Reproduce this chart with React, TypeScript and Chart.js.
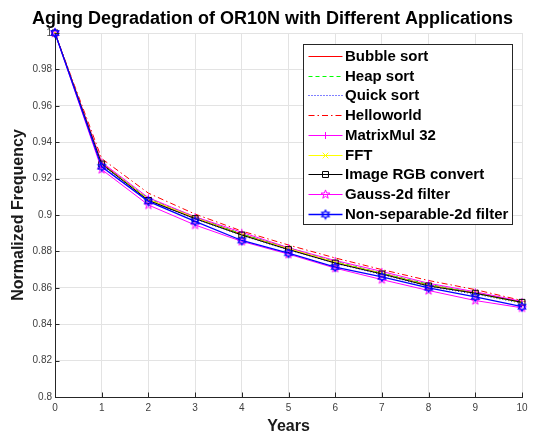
import React, { useEffect, useRef } from 'react';
import { Chart, registerables } from 'chart.js';
import { drawPoint } from 'chart.js/helpers';

Chart.register(...registerables);

const years = [0, 1, 2, 3, 4, 5, 6, 7, 8, 9, 10];
const bubbleSort = [1, 0.9285, 0.9085, 0.8985, 0.8895, 0.8815, 0.874, 0.868, 0.8615, 0.8572, 0.8522];
const heapSort = [1, 0.928, 0.909, 0.899, 0.8895, 0.882, 0.8745, 0.868, 0.862, 0.857, 0.852];
const quickSort = [1, 0.9275, 0.9078, 0.8978, 0.8888, 0.8808, 0.8735, 0.8672, 0.8608, 0.8565, 0.8515];
const helloworld = [1, 0.931, 0.912, 0.9005, 0.8912, 0.8835, 0.8764, 0.87, 0.864, 0.859, 0.853];
const matrixMul32 = [1, 0.929, 0.9095, 0.899, 0.8905, 0.882, 0.875, 0.869, 0.8625, 0.8578, 0.8525];
const fft = [1, 0.928, 0.9085, 0.8985, 0.889, 0.8815, 0.874, 0.8678, 0.8612, 0.857, 0.8518];
const imageRgbConvert = [1, 0.928, 0.908, 0.898, 0.889, 0.881, 0.8736, 0.8676, 0.861, 0.857, 0.852];
const gauss2dFilter = [1, 0.925, 0.9055, 0.8945, 0.8855, 0.8785, 0.8708, 0.8645, 0.8585, 0.853, 0.849];
const nonSeparable2dFilter = [1, 0.9265, 0.9075, 0.8965, 0.886, 0.879, 0.8714, 0.866, 0.86, 0.855, 0.8496];

const seriesLabels = [
  'Bubble sort',
  'Heap sort',
  'Quick sort',
  'Helloworld',
  'MatrixMul 32',
  'FFT',
  'Image RGB convert',
  'Gauss-2d filter',
  'Non-separable-2d filter',
];

const yTickLabels = ['0.8', '0.82', '0.84', '0.86', '0.88', '0.9', '0.92', '0.94', '0.96', '0.98', '1'];
const xTickLabels = ['0', '1', '2', '3', '4', '5', '6', '7', '8', '9', '10'];

const FONT = "'Liberation Sans', Arial, Helvetica, sans-serif";

function makeStar(color: string, points: number, outer: number, inner: number, lw: number) {
  const size = Math.ceil(outer * 2 + 3);
  const c = document.createElement('canvas');
  c.width = size;
  c.height = size;
  const ctx = c.getContext('2d')!;
  const cx = size / 2;
  const cy = size / 2;
  ctx.strokeStyle = color;
  ctx.lineWidth = lw;
  ctx.beginPath();
  for (let i = 0; i < points * 2; i++) {
    const r = i % 2 === 0 ? outer : inner;
    const a = -Math.PI / 2 + (i * Math.PI) / points;
    const px = cx + r * Math.cos(a);
    const py = cy + r * Math.sin(a);
    if (i === 0) ctx.moveTo(px, py);
    else ctx.lineTo(px, py);
  }
  ctx.closePath();
  ctx.stroke();
  return c;
}

export default function App() {
  const ref = useRef<HTMLCanvasElement | null>(null);

  useEffect(() => {
    document.body.style.margin = '0';
    const canvas = ref.current!;
    const pentagram = makeStar('#ff00ff', 5, 4.6, 1.9, 1);
    const hexagram = makeStar('#0000ff', 6, 4.2, 2.4, 1.3);

    const values = [
      bubbleSort,
      heapSort,
      quickSort,
      helloworld,
      matrixMul32,
      fft,
      imageRgbConvert,
      gauss2dFilter,
      nonSeparable2dFilter,
    ];
    const styles: any[] = [
      { color: '#ff0000', dash: [], width: 1, marker: null, r: 0 },
      { color: '#00ff00', dash: [4, 3], width: 1, marker: null, r: 0 },
      { color: '#0000ff', dash: [1, 2], width: 1, marker: null, r: 0 },
      { color: '#ff0000', dash: [6, 3, 1.5, 3], width: 1, marker: null, r: 0 },
      { color: '#ff00ff', dash: [], width: 1, marker: 'cross', r: 3.5 },
      { color: '#ffff00', dash: [], width: 1, marker: 'crossRot', r: 4 },
      { color: '#000000', dash: [], width: 1, marker: 'rect', r: 4.2 },
      { color: '#ff00ff', dash: [], width: 1, marker: pentagram, r: 4.5 },
      { color: '#0000ff', dash: [], width: 1.3, marker: hexagram, r: 4.5 },
    ];

    const datasets: any[] = values.map((vals, i) => {
      const s = styles[i];
      return {
        label: seriesLabels[i],
        data: vals.map((v, j) => ({ x: years[j], y: v })),
        borderColor: s.color,
        backgroundColor: s.color,
        borderWidth: s.width,
        borderDash: s.dash,
        pointStyle: s.marker || 'circle',
        pointRadius: s.r,
        pointBorderColor: s.color,
        pointBackgroundColor: 'rgba(0,0,0,0)',
        pointBorderWidth: 1,
        clip: false,
        order: values.length - i,
        yAxisID: 'y',
      };
    });

    const inwardTicks = {
      id: 'inwardTicks',
      afterDatasetsDraw(chart: any) {
        const { ctx, chartArea, scales } = chart;
        ctx.save();
        ctx.strokeStyle = '#262626';
        ctx.lineWidth = 1;
        ctx.beginPath();
        scales.x.ticks.forEach((t: any) => {
          const px = Math.round(scales.x.getPixelForValue(t.value)) + 0.5;
          ctx.moveTo(px, chartArea.bottom);
          ctx.lineTo(px, chartArea.bottom - 4.5);
        });
        scales.y.ticks.forEach((t: any) => {
          const py = Math.round(scales.y.getPixelForValue(t.value)) + 0.5;
          ctx.moveTo(chartArea.left, py);
          ctx.lineTo(chartArea.left + 4.5, py);
        });
        ctx.stroke();
        ctx.restore();
      },
    };

    const boxLegend = {
      id: 'boxLegend',
      afterDraw(chart: any) {
        const { ctx, chartArea } = chart;
        const left = Math.round(chartArea.right - 219) + 0.5;
        const top = Math.round(chartArea.top + 11) + 0.5;
        const w = 209;
        const h = 180;
        ctx.save();
        ctx.fillStyle = '#ffffff';
        ctx.fillRect(left, top, w, h);
        ctx.strokeStyle = '#262626';
        ctx.lineWidth = 1;
        ctx.strokeRect(left, top, w, h);
        seriesLabels.forEach((label, i) => {
          const s = styles[i];
          const y = Math.round(top + 11.5 + i * 19.7) + 0.5;
          const x0 = left + 5;
          const x1 = left + 39;
          ctx.save();
          ctx.setLineDash(s.dash);
          ctx.strokeStyle = s.color;
          ctx.lineWidth = s.width;
          ctx.beginPath();
          ctx.moveTo(x0, y);
          ctx.lineTo(x1, y);
          ctx.stroke();
          ctx.setLineDash([]);
          if (s.marker) {
            ctx.strokeStyle = s.color;
            ctx.fillStyle = 'rgba(0,0,0,0)';
            ctx.lineWidth = 1;
            drawPoint(ctx, { pointStyle: s.marker, radius: s.r, rotation: 0, borderWidth: 1 }, (x0 + x1) / 2, y);
          }
          ctx.restore();
          ctx.fillStyle = '#000000';
          ctx.font = `bold 15px ${FONT}`;
          ctx.textAlign = 'left';
          ctx.textBaseline = 'alphabetic';
          ctx.fillText(label, left + 41.5, y + 4.8);
        });
        ctx.restore();
      },
    };

    const chart = new Chart(canvas, {
      type: 'line',
      data: { datasets },
      plugins: [inwardTicks, boxLegend],
      options: {
        animation: false,
        responsive: false,
        devicePixelRatio: 1,
        layout: { padding: 0 },
        plugins: {
          legend: { display: false },
          tooltip: { enabled: false },
          colors: { enabled: false },
          title: {
            display: true,
            text: 'Aging Degradation of OR10N with Different Applications',
            color: '#000000',
            font: { family: FONT, size: 18, weight: 'bold', lineHeight: 1.2 },
            padding: { top: 8, bottom: 3.4 },
          },
        },
        scales: {
          x: {
            type: 'linear',
            min: 0,
            max: 10,
            afterFit: (s: any) => {
              s.height = 36;
            },
            ticks: {
              stepSize: 1,
              padding: 5,
              color: '#404040',
              font: { family: FONT, size: 10 },
              maxRotation: 0,
              callback: (v: any) => xTickLabels[Math.round(Number(v))] ?? '',
            },
            grid: { color: '#e3e3e3', drawTicks: false, lineWidth: 1 },
            border: { display: true, color: '#262626', width: 1 },
            title: {
              display: true,
              text: 'Years',
              color: '#1a1a1a',
              font: { family: FONT, size: 16, weight: 'bold', lineHeight: 1 },
              padding: { top: 0, bottom: -1.5 },
            },
          },
          y: {
            type: 'linear',
            min: 0.8,
            max: 1,
            afterFit: (s: any) => {
              s.width = 55;
            },
            ticks: {
              stepSize: 0.02,
              padding: 3,
              color: '#404040',
              font: { family: FONT, size: 10 },
              callback: (v: any) => yTickLabels[Math.round((Number(v) - 0.8) / 0.02)] ?? '',
            },
            grid: { color: '#e3e3e3', drawTicks: false, lineWidth: 1 },
            border: { display: true, color: '#262626', width: 1 },
            title: {
              display: true,
              text: 'Normalized Frequency',
              color: '#1a1a1a',
              font: { family: FONT, size: 16, weight: 'bold', lineHeight: 1.2 },
              padding: { top: 9.4, bottom: 0 },
            },
          },
          spacer: {
            type: 'linear',
            position: 'right',
            display: true,
            min: 0,
            max: 1,
            afterFit: (s: any) => {
              s.width = 23;
            },
            ticks: { display: false },
            grid: { display: false, drawTicks: false },
            border: { display: false },
            title: { display: false },
          },
        },
      } as any,
    });
    return () => chart.destroy();
  }, []);

  return (
    <div style={{ position: 'absolute', left: 0, top: 0, width: 545, height: 433, background: '#fff' }}>
      <canvas ref={ref} width={545} height={433} style={{ width: 545, height: 433 }} />
    </div>
  );
}
